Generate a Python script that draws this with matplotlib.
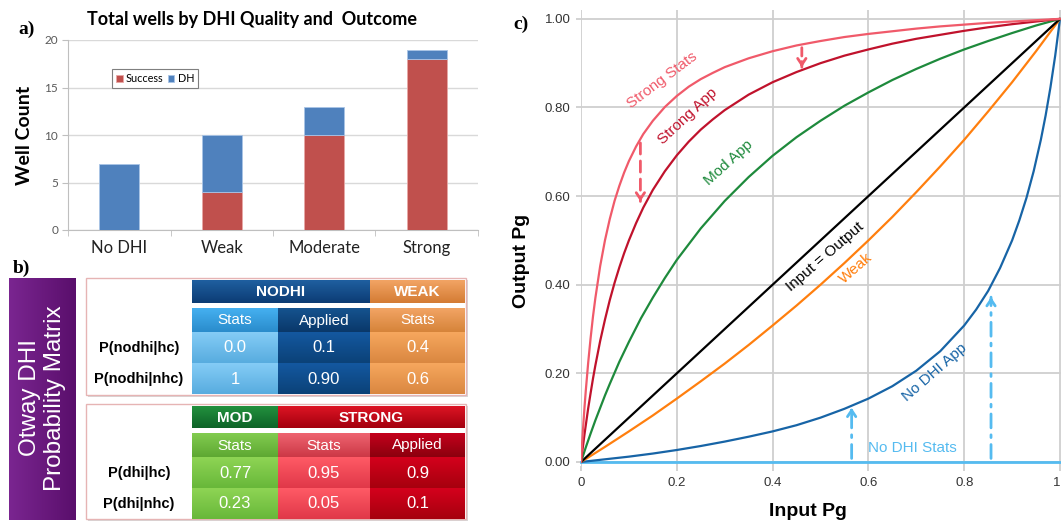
import numpy as np
import matplotlib
matplotlib.use('Agg')
import matplotlib.pyplot as plt
from matplotlib.patches import Rectangle
from matplotlib.colors import to_rgb

W, H, DPI = 1061, 523, 100

# ---------------- data: panel a ----------------
categories = ['No DHI', 'Weak', 'Moderate', 'Strong']
success = [0, 4, 10, 18]
dry_holes = [7, 6, 3, 1]
yticks_a = [0, 5, 10, 15, 20]

# ---------------- data: panel b ----------------
t1_groups = ['NODHI', 'WEAK']
t1_cols = ['Stats', 'Applied', 'Stats']
t1_rows = ['P(nodhi|hc)', 'P(nodhi|nhc)']
t1_vals = [['0.0', '0.1', '0.4'], ['1', '0.90', '0.6']]
t2_groups = ['MOD', 'STRONG']
t2_cols = ['Stats', 'Stats', 'Applied']
t2_rows = ['P(dhi|hc)', 'P(dhi|nhc)']
t2_vals = [['0.77', '0.95', '0.9'], ['0.23', '0.05', '0.1']]

# ---------------- data: panel c ----------------
strong_x = [0, 0.0025, 0.005, 0.0075, 0.01, 0.015, 0.02, 0.025, 0.03, 0.04, 0.05, 0.06, 0.07, 0.08, 0.09,
            0.10, 0.115, 0.13, 0.15, 0.175, 0.2, 0.225, 0.25, 0.275, 0.3, 0.35, 0.4, 0.45, 0.5, 0.55, 0.6,
            0.65, 0.7, 0.75, 0.8, 0.85, 0.9, 0.95, 1.0]
strong_stats = [0, 0.046, 0.087, 0.126, 0.161, 0.224, 0.279, 0.328, 0.370, 0.442, 0.500, 0.548, 0.589, 0.623,
                0.653, 0.679, 0.712, 0.740, 0.770, 0.801, 0.826, 0.847, 0.864, 0.878, 0.891, 0.911, 0.927,
                0.940, 0.950, 0.959, 0.966, 0.972, 0.978, 0.983, 0.987, 0.991, 0.994, 0.997, 1.0]
strong_app = [0, 0.022, 0.043, 0.064, 0.083, 0.121, 0.155, 0.188, 0.218, 0.273, 0.321, 0.365, 0.404, 0.439,
              0.471, 0.500, 0.539, 0.574, 0.614, 0.656, 0.692, 0.723, 0.750, 0.773, 0.794, 0.829, 0.857,
              0.880, 0.900, 0.917, 0.931, 0.944, 0.955, 0.964, 0.973, 0.981, 0.988, 0.994, 1.0]
mod_x = [0, 0.01, 0.02, 0.03, 0.04, 0.05, 0.06, 0.08, 0.10, 0.125, 0.15, 0.175, 0.2, 0.25, 0.3, 0.35, 0.4,
         0.45, 0.5, 0.55, 0.6, 0.65, 0.7, 0.75, 0.8, 0.85, 0.9, 0.95, 1.0]
mod_app = [0, 0.033, 0.064, 0.094, 0.122, 0.150, 0.176, 0.226, 0.271, 0.324, 0.371, 0.415, 0.456, 0.527,
           0.589, 0.643, 0.691, 0.733, 0.770, 0.804, 0.834, 0.862, 0.887, 0.910, 0.931, 0.950, 0.968,
           0.985, 1.0]
weak_x = [0, 0.05, 0.1, 0.15, 0.2, 0.25, 0.3, 0.35, 0.4, 0.45, 0.5, 0.55, 0.6, 0.65, 0.7, 0.75, 0.8, 0.85,
          0.9, 0.95, 1.0]
weak = [0, 0.034, 0.069, 0.105, 0.143, 0.182, 0.222, 0.264, 0.308, 0.353, 0.400, 0.449, 0.500, 0.553, 0.609,
        0.667, 0.727, 0.791, 0.857, 0.927, 1.0]
no_dhi_x = [0, 0.05, 0.1, 0.15, 0.2, 0.25, 0.3, 0.35, 0.4, 0.45, 0.5, 0.55, 0.6, 0.65, 0.7, 0.75, 0.8,
            0.825, 0.85, 0.875, 0.9, 0.915, 0.93, 0.945, 0.96, 0.97, 0.98, 0.99, 1.0]
no_dhi_app = [0, 0.006, 0.012, 0.019, 0.027, 0.036, 0.046, 0.057, 0.069, 0.083, 0.100, 0.120, 0.143, 0.171,
              0.206, 0.250, 0.308, 0.344, 0.386, 0.438, 0.500, 0.545, 0.596, 0.656, 0.727, 0.782, 0.845,
              0.917, 1.0]
identity_x = [0.0, 1.0]
identity_y = [0.0, 1.0]
no_dhi_stats_x = [0.0, 1.0]
no_dhi_stats = [0.0, 0.0]
xticks_c = [0, 0.2, 0.4, 0.6, 0.8, 1.0]
xticklabels_c = ['0', '0.2', '0.4', '0.6', '0.8', '1']
yticks_c = [0, 0.2, 0.4, 0.6, 0.8, 1.0]
yticklabels_c = ['0.00', '0.20', '0.40', '0.60', '0.80', '1.00']

# ---------------- helpers ----------------
def fig_rect(x0, y0, x1, y1):
    return [x0 / W, 1 - y1 / H, (x1 - x0) / W, (y1 - y0) / H]

fig = plt.figure(figsize=(W / DPI, H / DPI), dpi=DPI)
fig.patch.set_facecolor('white')

SANS = 'Liberation Sans'
CAL = 'Lato'

# ================= panel a =================
RED_A, BLUE_A = '#C0504D', '#4F81BD'
ax_a = fig.add_axes(fig_rect(68, 40, 478, 230))
xa = np.arange(len(categories))
ax_a.bar(xa, success, 0.39, color=RED_A, edgecolor='#E8A8A6', linewidth=0.6, label='Success', zorder=3)
ax_a.bar(xa, dry_holes, 0.39, bottom=success, color=BLUE_A, edgecolor='#A9C4E6', linewidth=0.6,
         label='DH', zorder=3)
ax_a.set_xlim(-0.5, 3.5)
ax_a.set_ylim(0, 20)
ax_a.set_yticks(yticks_a)
ax_a.set_yticklabels([str(v) for v in yticks_a], fontfamily=CAL, fontsize=8.5, color='#595959')
ax_a.set_xticks(xa)
ax_a.set_xticklabels(categories, fontfamily=CAL, fontsize=12, color='#222222')
ax_a.set_xticks([-0.5, 0.5, 1.5, 2.5, 3.5], minor=True)
ax_a.tick_params(axis='x', which='major', length=0, pad=7)
ax_a.tick_params(axis='x', which='minor', length=4, color='#BFBFBF')
ax_a.tick_params(axis='y', length=4, color='#BFBFBF', pad=3)
ax_a.grid(axis='y', color='#D9D9D9', linewidth=1.0, zorder=0)
for s in ['top', 'right']:
    ax_a.spines[s].set_visible(False)
ax_a.spines['left'].set_color('#BFBFBF')
ax_a.spines['bottom'].set_color('#BFBFBF')
ax_a.set_title('Total wells by DHI Quality and  Outcome', fontfamily=CAL, fontweight='bold',
               fontsize=13, pad=11, x=0.45)
ax_a.set_ylabel('Well Count', fontfamily=CAL, fontweight='bold', fontsize=14, labelpad=8)
leg = ax_a.legend(loc='upper left', bbox_to_anchor=(107 / W, 1 - 64 / H), bbox_transform=fig.transFigure,
                  ncol=2, prop={'family': CAL, 'size': 7.8}, handlelength=0.6, handleheight=0.6,
                  columnspacing=0.4, handletextpad=0.3, borderpad=0.35, fancybox=False,
                  edgecolor='#7F7F7F', framealpha=1)
leg.get_frame().set_linewidth(0.8)

# ================= panel c =================
ax_c = fig.add_axes(fig_rect(581, 10, 1061, 466.4))
ax_c.set_xlim(0, 1.0021)
ax_c.set_ylim(-0.01, 1.02)
ax_c.grid(color='#CFCFCF', linewidth=1.3, zorder=0)
for s in ax_c.spines.values():
    s.set_visible(False)
ax_c.set_xticks(xticks_c)
ax_c.set_xticklabels(xticklabels_c, fontfamily=SANS, fontsize=9.5, color='#333333')
ax_c.get_xticklabels()[-1].set_horizontalalignment('right')
ax_c.set_yticks(yticks_c)
ax_c.set_yticklabels(yticklabels_c, fontfamily=SANS, fontsize=9.5, color='#333333')
ax_c.tick_params(length=3.5, color='#CFCFCF', width=1.3, pad=4)
ax_c.set_axisbelow(True)

C_SS, C_SA, C_MOD, C_WEAK, C_ND, C_NDS = '#F05A6A', '#C0122C', '#1E8A3C', '#FF7F0E', '#1764A6', '#55BBF0'
LW = 1.6
line_kw = dict(lw=LW, solid_joinstyle='round', solid_capstyle='round')
ax_c.plot(no_dhi_stats_x, no_dhi_stats, color=C_NDS, lw=2.0, clip_on=False, zorder=3)
ax_c.plot(no_dhi_x, no_dhi_app, color=C_ND, zorder=4, **line_kw)
ax_c.plot(weak_x, weak, color=C_WEAK, zorder=4, **line_kw)
ax_c.plot(identity_x, identity_y, color='black', zorder=4, **line_kw)
ax_c.plot(mod_x, mod_app, color=C_MOD, zorder=4, **line_kw)
ax_c.plot(strong_x, strong_app, color=C_SA, zorder=5, **line_kw)
ax_c.plot(strong_x, strong_stats, color=C_SS, zorder=5, **line_kw)

lab_kw = dict(fontfamily=SANS, fontsize=11, ha='center', va='center', rotation_mode='anchor', zorder=6)
ax_c.text(0.169, 0.862, 'Strong Stats', color=C_SS, rotation=37, **lab_kw)
ax_c.text(0.223, 0.781, 'Strong App', color=C_SA, rotation=43, **lab_kw)
ax_c.text(0.309, 0.675, 'Mod App', color=C_MOD, rotation=42, **lab_kw)
ax_c.text(0.509, 0.463, 'Input = Output', color='black', rotation=41, **lab_kw)
ax_c.text(0.574, 0.438, 'Weak', color=C_WEAK, rotation=41, **lab_kw)
ax_c.text(0.738, 0.203, 'No DHI App', color=C_ND, rotation=41, **lab_kw)
ax_c.text(0.6, 0.032, 'No DHI Stats', color=C_NDS, fontfamily=SANS, fontsize=11, ha='left', va='center')

def dashed_arrow(x, y0, y1, color, ls):
    ax_c.annotate('', xy=(x, y1), xytext=(x, y0),
                  arrowprops=dict(arrowstyle='-', color=color, lw=2.0, linestyle=ls,
                                  shrinkA=0, shrinkB=0), zorder=6)
    d = 0.01 if y1 < y0 else -0.01
    ax_c.annotate('', xy=(x, y1), xytext=(x, y1 + d),
                  arrowprops=dict(arrowstyle='->,head_length=0.45,head_width=0.3', color=color, lw=2.0,
                                  shrinkA=0, shrinkB=0), zorder=6)

dashed_arrow(0.124, 0.72, 0.588, C_SS, (0, (4, 2.5)))
dashed_arrow(0.461, 0.935, 0.891, C_SS, (0, (3, 2)))
dashed_arrow(0.565, 0.008, 0.122, C_NDS, (0, (5, 2.5, 1, 2.5)))
dashed_arrow(0.856, 0.008, 0.372, C_NDS, (0, (5, 2.5, 1, 2.5)))

ax_c.set_xlabel('Input Pg', fontfamily=SANS, fontweight='bold', fontsize=14)
ax_c.xaxis.set_label_coords((807.5 - 581) / 480, (466.4 - 511) / 456.4)
ax_c.xaxis.label.set_va('center')
ax_c.set_ylabel('Output Pg', fontfamily=SANS, fontweight='bold', fontsize=14)
ax_c.yaxis.set_label_coords((521 - 581) / 480, (466.4 - 261) / 456.4)
ax_c.yaxis.label.set_va('center')

# ================= overlay (panel b + panel letters) =================
ov = fig.add_axes([0, 0, 1, 1], zorder=10)
ov.patch.set_alpha(0)

def grad(x0, y0, x1, y1, c_a, c_b, horizontal=False, z=3):
    t = np.linspace(0, 1, 32)
    a, b = np.array(to_rgb(c_a)), np.array(to_rgb(c_b))
    if horizontal:
        img = (1 - t)[None, :, None] * a + t[None, :, None] * b
    else:
        img = (1 - t)[:, None, None] * a + t[:, None, None] * b
    ov.imshow(img, extent=(x0, x1, y1, y0), aspect='auto', interpolation='bilinear', zorder=z)

# purple box
grad(9, 278, 76, 520, '#7A2590', '#5A0F6C', horizontal=True)
ov.text(30, 398, 'Otway DHI', color='white', fontfamily=SANS, fontsize=17.5, rotation=90,
        ha='center', va='center', zorder=5)
ov.text(55, 398, 'Probability Matrix', color='white', fontfamily=SANS, fontsize=17.5, rotation=90,
        ha='center', va='center', zorder=5)

col_x = [192, 278, 370, 465]

def table(y_top, y_bot, groups, group_spans, group_cols, cols, sub_cols, cell_cols, rows, vals, ys):
    ov.add_patch(Rectangle((88, y_top + 2), 380, y_bot - y_top, facecolor='#D8D8D8', edgecolor='none', zorder=1))
    ov.add_patch(Rectangle((86, y_top), 380, y_bot - y_top, facecolor='white', edgecolor='#E6B4B4',
                           linewidth=1.0, zorder=2))
    hy0, hy1, sy0, sy1, r0, r1, r2 = ys
    for g, (c0, c1), (ct, cb) in zip(groups, group_spans, group_cols):
        grad(col_x[c0], hy0, col_x[c1], hy1, ct, cb)
        ov.text((col_x[c0] + col_x[c1]) / 2, (hy0 + hy1) / 2 + 0.5, g, color='white', fontfamily=SANS,
                fontweight='bold', fontsize=11, ha='center', va='center', zorder=5)
    for j, name in enumerate(cols):
        ct, cb = sub_cols[j]
        grad(col_x[j], sy0, col_x[j + 1], sy1, ct, cb)
        ov.text((col_x[j] + col_x[j + 1]) / 2, (sy0 + sy1) / 2 + 0.5, name, color='white', fontfamily=SANS,
                fontsize=11, ha='center', va='center', zorder=5)
    for i, (ra, rb) in enumerate([(r0, r1), (r1, r2)]):
        ov.text(139, (ra + rb) / 2 + 0.5, rows[i], color='black', fontfamily=SANS, fontweight='bold',
                fontsize=10.5, ha='center', va='center', zorder=5)
        for j in range(3):
            ct, cb = cell_cols[j]
            grad(col_x[j], ra, col_x[j + 1], rb, ct, cb)
            ov.text((col_x[j] + col_x[j + 1]) / 2, (ra + rb) / 2 + 0.5, vals[i][j], color='white',
                    fontfamily=SANS, fontsize=12, ha='center', va='center', zorder=5)

table(278, 395, t1_groups, [(0, 2), (2, 3)],
      [('#1F5FA0', '#0C3C74'), ('#F2A464', '#D47C34')],
      t1_cols,
      [('#45B0F0', '#2A8CCC'), ('#15538F', '#0A386A'), ('#F2A464', '#D6843A')],
      [('#84CCF6', '#58ACDF'), ('#1458A0', '#0B4278'), ('#F6A75E', '#DA8740')],
      t1_rows, t1_vals, (280, 303, 308, 332, 332, 363, 394))
table(404, 519, t2_groups, [(0, 1), (1, 3)],
      [('#22903E', '#0E6428'), ('#DC1424', '#A4000E')],
      t2_cols,
      [('#82CC50', '#5EA832'), ('#EE6470', '#CC3846'), ('#C4001C', '#8C000E')],
      [('#8ED454', '#68B83A'), ('#FF5A66', '#E03848'), ('#D4001C', '#A6000E')],
      t2_rows, t2_vals, (406, 428, 433, 457, 457, 488, 519))

# panel letters
let_kw = dict(fontfamily='Liberation Serif', fontweight='bold', fontsize=14, ha='center', va='center', zorder=6)
ov.text(27, 29, 'a)', **let_kw)
ov.text(21, 268, 'b)', **let_kw)
ov.text(521, 24, 'c)', **let_kw)

ov.set_xlim(0, W)
ov.set_ylim(H, 0)
ov.axis('off')

fig.savefig('out.png', dpi=DPI)
